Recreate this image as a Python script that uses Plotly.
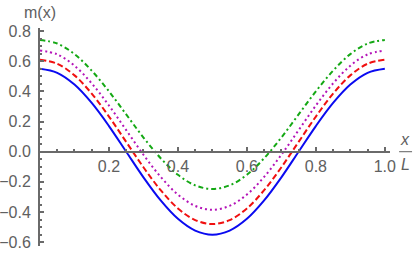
import plotly.graph_objects as go

x_vals = [0.00, 0.05, 0.10, 0.15, 0.20, 0.25, 0.30, 0.35, 0.40, 0.45, 0.50,
          0.55, 0.60, 0.65, 0.70, 0.75, 0.80, 0.85, 0.90, 0.95, 1.00]

m_blue = [0.550, 0.523, 0.445, 0.323, 0.170, 0.000, -0.170, -0.323, -0.445, -0.523, -0.550,
          -0.523, -0.445, -0.323, -0.170, 0.000, 0.170, 0.323, 0.445, 0.523, 0.550]
m_red = [0.610, 0.583, 0.506, 0.385, 0.233, 0.065, -0.103, -0.255, -0.376, -0.453, -0.480,
         -0.453, -0.376, -0.255, -0.103, 0.065, 0.233, 0.385, 0.506, 0.583, 0.610]
m_purple = [0.671, 0.645, 0.570, 0.453, 0.306, 0.143, -0.020, -0.167, -0.284, -0.359, -0.385,
            -0.359, -0.284, -0.167, -0.020, 0.143, 0.306, 0.453, 0.570, 0.645, 0.671]
m_green = [0.741, 0.717, 0.647, 0.537, 0.400, 0.247, 0.094, -0.043, -0.153, -0.223, -0.247,
           -0.223, -0.153, -0.043, 0.094, 0.247, 0.400, 0.537, 0.647, 0.717, 0.741]

x_ticks = [0.2, 0.4, 0.6, 0.8, 1.0]
x_tick_text = ["0.2", "0.4", "0.6", "0.8", "1.0"]
y_ticks = [-0.6, -0.4, -0.2, 0.0, 0.2, 0.4, 0.6, 0.8]
y_tick_text = ["−0.6", "−0.4", "−0.2", "0.0", "0.2", "0.4", "0.6", "0.8"]

series = [
    (m_blue, "#0a0af0", "solid"),
    (m_red, "#f01010", "6px,3px"),
    (m_purple, "#b414b8", "2px,3px"),
    (m_green, "#14a814", "5px,3px,2px,3px"),
]

fig = go.Figure()
for ys, col, dash in series:
    fig.add_trace(go.Scatter(x=x_vals, y=ys, mode="lines",
                             line=dict(color=col, width=2, dash=dash, shape="spline", smoothing=1.0),
                             showlegend=False, hoverinfo="skip", cliponaxis=False))

gray = "#6a6a6a"
txt = "#606060"
fs = 16
y_lo, y_hi = -0.625, 0.82
y0_frac = (0 - y_lo) / (y_hi - y_lo)
fig.update_layout(
    width=415, height=255,
    margin=dict(l=40, r=25, t=28, b=9, autoexpand=False),
    paper_bgcolor="white", plot_bgcolor="white",
    font=dict(family="Liberation Sans, Arial, sans-serif", size=fs, color=txt),
    xaxis=dict(range=[0, 1.015], anchor="free", position=y0_frac,
               automargin=False,
               showgrid=False, zeroline=False, showline=True, linecolor=gray, linewidth=2,
               tickmode="array", tickvals=x_ticks, ticktext=x_tick_text,
               ticks="inside", ticklen=4, tickwidth=1.5, tickcolor=gray,
               minor=dict(ticks="inside", dtick=0.05, tick0=0, ticklen=2, tickwidth=1.5, tickcolor=gray),
               tickfont=dict(size=fs, color=txt)),
    yaxis=dict(range=[y_lo, y_hi], automargin=False,
               showgrid=False, zeroline=False, showline=True,
               linecolor=gray, linewidth=2,
               tickmode="array", tickvals=y_ticks, ticktext=y_tick_text,
               ticks="inside", ticklen=4, tickwidth=1.5, tickcolor=gray, ticklabelstandoff=4,
               minor=dict(ticks="inside", dtick=0.05, tick0=0, ticklen=2, tickwidth=1.5, tickcolor=gray),
               tickfont=dict(size=fs, color=txt)),
)

fig.add_annotation(x=0, y=1.0, xref="x", yref="paper", text="m(x)", showarrow=False,
                   xanchor="center", yanchor="bottom", yshift=5, font=dict(size=fs, color=txt))
fig.add_annotation(x=1.044, y=y0_frac, xref="paper", yref="paper", text="<i>x</i>", showarrow=False,
                   xanchor="center", yanchor="bottom", yshift=2, font=dict(size=fs, color=txt))
fig.add_annotation(x=1.044, y=y0_frac, xref="paper", yref="paper", text="<i>L</i>", showarrow=False,
                   xanchor="center", yanchor="top", yshift=-2, font=dict(size=fs, color=txt))
fig.add_shape(type="line", xref="paper", yref="paper", x0=1.026, x1=1.063, y0=y0_frac, y1=y0_frac,
              line=dict(color=txt, width=1))

fig.write_html("out.html", config={"displayModeBar": False},
               post_script="document.body.style.margin='0px';document.body.style.overflow='hidden';")
